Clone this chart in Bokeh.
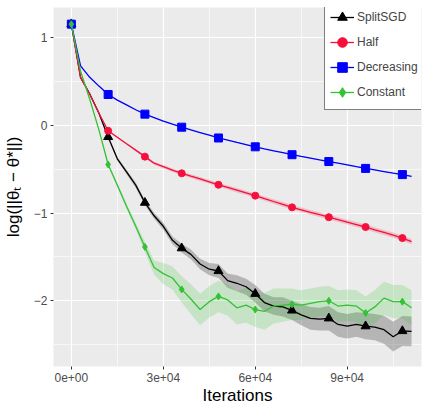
from bokeh.plotting import figure
from bokeh.models import (ColumnDataSource, FixedTicker, Legend, LegendItem, Range1d)
from bokeh.embed import file_html
from bokeh.resources import INLINE

iterations = [0, 3000, 6000, 9000, 12000, 15000, 18000, 21000, 24000, 27000,
              30000, 33000, 36000, 39000, 42000, 45000, 48000, 51000, 54000, 57000,
              60000, 63000, 66000, 69000, 72000, 75000, 78000, 81000, 84000, 87000,
              90000, 93000, 96000, 99000, 102000, 105000, 108000, 111000]

splitsgd = [1.157, 0.55, 0.36, 0.14, -0.13, -0.38, -0.53, -0.68, -0.88, -1.03,
            -1.15, -1.31, -1.40, -1.47, -1.58, -1.64, -1.66, -1.77, -1.80, -1.84,
            -1.92, -2.02, -2.06, -2.07, -2.11, -2.16, -2.20, -2.21, -2.20, -2.27,
            -2.29, -2.27, -2.29, -2.30, -2.33, -2.41, -2.345, -2.35]
splitsgd_sd = [0.0, 0.01, 0.01, 0.015, 0.02, 0.02, 0.025, 0.03, 0.03, 0.035,
               0.04, 0.045, 0.05, 0.055, 0.06, 0.07, 0.08, 0.08, 0.09, 0.09,
               0.1, 0.1, 0.1, 0.11, 0.11, 0.12, 0.13, 0.13, 0.14, 0.14,
               0.14, 0.14, 0.15, 0.15, 0.16, 0.17, 0.17, 0.17]

half = [1.157, 0.55, 0.36, 0.14, -0.06, -0.134, -0.208, -0.281, -0.355, -0.43,
        -0.47, -0.51, -0.545, -0.578, -0.61, -0.643, -0.676, -0.707, -0.738, -0.769,
        -0.80, -0.834, -0.867, -0.90, -0.934, -0.962, -0.99, -1.018, -1.046, -1.074,
        -1.102, -1.13, -1.158, -1.19, -1.22, -1.252, -1.284, -1.325]
half_sd = [0.0, 0.005, 0.005, 0.008, 0.01, 0.01, 0.012, 0.014, 0.015, 0.018,
           0.02, 0.02, 0.02, 0.022, 0.022, 0.022, 0.024, 0.024, 0.025, 0.025,
           0.025, 0.025, 0.025, 0.026, 0.026, 0.026, 0.027, 0.027, 0.027, 0.028,
           0.028, 0.028, 0.028, 0.029, 0.029, 0.03, 0.03, 0.03]

decreasing = [1.157, 0.68, 0.55, 0.45, 0.354, 0.29, 0.235, 0.18, 0.13, 0.09,
              0.05, 0.015, -0.019, -0.05, -0.08, -0.11, -0.142, -0.167, -0.193, -0.218,
              -0.243, -0.266, -0.288, -0.31, -0.333, -0.353, -0.372, -0.392, -0.411, -0.43,
              -0.45, -0.47, -0.489, -0.507, -0.525, -0.543, -0.56, -0.579]
decreasing_sd = [0.0, 0.004, 0.004, 0.004, 0.004, 0.004, 0.004, 0.004, 0.004, 0.004,
                 0.004, 0.004, 0.004, 0.004, 0.004, 0.004, 0.004, 0.004, 0.004, 0.004,
                 0.004, 0.004, 0.004, 0.004, 0.004, 0.004, 0.004, 0.004, 0.004, 0.004,
                 0.004, 0.004, 0.004, 0.004, 0.004, 0.004, 0.004, 0.004]

constant = [1.157, 0.62, 0.30, -0.05, -0.445, -0.68, -0.92, -1.15, -1.385, -1.62,
            -1.69, -1.74, -1.87, -1.98, -2.10, -2.01, -1.95, -1.99, -2.08, -2.05,
            -2.10, -2.12, -2.06, -2.05, -2.04, -2.05, -2.03, -2.01, -2.00, -2.06,
            -2.05, -2.06, -2.14, -2.07, -1.97, -2.01, -2.01, -2.08]
constant_sd = [0.0, 0.01, 0.01, 0.01, 0.012, 0.02, 0.03, 0.04, 0.06, 0.08,
               0.12, 0.13, 0.15, 0.17, 0.18, 0.18, 0.18, 0.18, 0.19, 0.2,
               0.2, 0.21, 0.2, 0.19, 0.18, 0.17, 0.17, 0.17, 0.17, 0.18,
               0.18, 0.18, 0.19, 0.19, 0.19, 0.19, 0.19, 0.2]

series_names = ["SplitSGD", "Half", "Decreasing", "Constant"]
x_tick_values = [0, 30000, 60000, 90000]
x_tick_labels = ["0e+00", "3e+04", "6e+04", "9e+04"]
y_tick_values = [1, 0, -1, -2]
y_tick_labels = ["1", "0", "\u22121", "\u22122"]

FONT = "Liberation Sans"

p = figure(width=427, height=407, output_backend="svg", toolbar_location=None,
           x_range=Range1d(-5826, 114240), y_range=Range1d(-2.75, 1.347),
           min_border_left=50, min_border_right=6, min_border_top=7, min_border_bottom=34)
p.background_fill_color = "#EBEBEB"
p.border_fill_color = "white"
p.outline_line_color = None

p.xaxis.ticker = FixedTicker(ticks=x_tick_values, minor_ticks=[15000, 45000, 75000, 105000])
p.yaxis.ticker = FixedTicker(ticks=y_tick_values, minor_ticks=[0.5, -0.5, -1.5, -2.5])
p.xaxis.major_label_overrides = {v: l for v, l in zip(x_tick_values, x_tick_labels)}
p.yaxis.major_label_overrides = {v: l for v, l in zip(y_tick_values, y_tick_labels)}
for ax in (p.xaxis, p.yaxis):
    ax.axis_line_color = None
    ax.minor_tick_line_color = None
    ax.major_tick_line_color = "#333333"
    ax.major_tick_in = 0
    ax.major_tick_out = 3
    ax.major_label_text_color = "#4D4D4D"
    ax.major_label_text_font = FONT
    ax.major_label_text_font_size = "12px"
    ax.major_label_standoff = 2
    ax.axis_label_text_font = FONT
    ax.axis_label_text_font_size = "17px"
    ax.axis_label_text_font_style = "normal"
    ax.axis_label_text_color = "black"
p.xaxis.axis_label = "Iterations"
p.yaxis.axis_label = "log(||\u03b8\u209c \u2212 \u03b8*||)"
p.xaxis.axis_label_standoff = 1
p.yaxis.axis_label_standoff = 8

for g in (p.xgrid, p.ygrid):
    g.grid_line_color = "white"
    g.grid_line_width = 1.2
    g.minor_grid_line_color = "white"
    g.minor_grid_line_width = 0.6

colors = ["black", "#F5103C", "#0000FF", "#33C233"]
band_colors = ["#555555", "#F5103C", "#0000FF", "#33C233"]
band_alpha = [0.36, 0.2, 0.2, 0.2]
markers = ["triangle", "circle", "square", "diamond"]
msizes = [9, 7, 8, 7]
means = [splitsgd, half, decreasing, constant]
sds = [splitsgd_sd, half_sd, decreasing_sd, constant_sd]

items = []
for i, name in enumerate(series_names):
    m = means[i]
    s = sds[i]
    src = ColumnDataSource(dict(x=iterations, y=m,
                                lo=[a - b for a, b in zip(m, s)],
                                hi=[a + b for a, b in zip(m, s)]))
    p.varea(x="x", y1="lo", y2="hi", source=src, fill_color=band_colors[i],
            fill_alpha=band_alpha[i])
for i, name in enumerate(series_names):
    m = means[i]
    src = ColumnDataSource(dict(x=iterations, y=m))
    msrc = ColumnDataSource(dict(x=iterations[::4], y=m[::4]))
    ln = p.line("x", "y", source=src, line_color=colors[i], line_width=1.3)
    sc = p.scatter("x", "y", source=msrc, marker=markers[i], size=msizes[i],
                   fill_color=colors[i], line_color=colors[i])
    items.append(LegendItem(label=name, renderers=[ln, sc]))

legend = Legend(items=items, location=(271, 256), margin=0, padding=5, spacing=1,
                glyph_width=24, glyph_height=24, label_standoff=3,
                label_text_font=FONT, label_text_font_size="12px",
                border_line_color="black", border_line_width=1.2,
                background_fill_color="white", background_fill_alpha=1.0)
p.add_layout(legend)

open("out.html", "w").write(file_html(p, INLINE))
